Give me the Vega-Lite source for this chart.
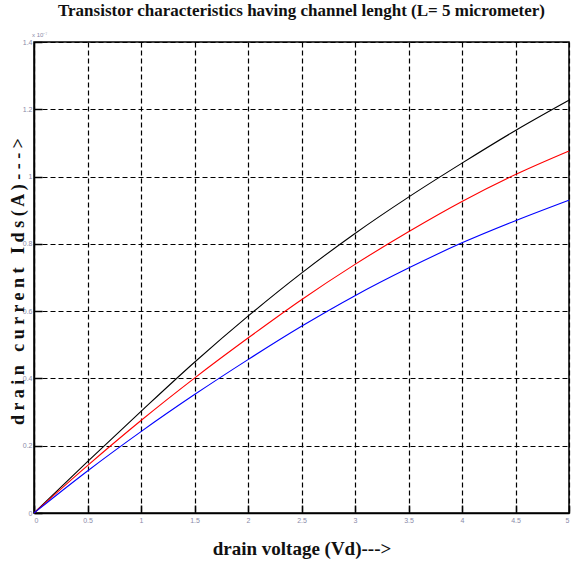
{
  "$schema": "https://vega.github.io/schema/vega-lite/v6.json",
  "autosize": "none",
  "width": 535,
  "height": 471,
  "padding": {"left": 34, "top": 42, "right": 4, "bottom": 49},
  "background": "white",
  "title": {
    "text": "Transistor characteristics having channel lenght (L= 5 micrometer)",
    "font": "Liberation Serif",
    "fontSize": 17,
    "fontWeight": "bold",
    "color": "#111111",
    "offset": 12,
    "anchor": "middle"
  },
  "config": {
    "view": {"stroke": "#000000", "strokeWidth": 1.5},
    "axis": {
      "grid": true,
      "gridColor": "#000000",
      "gridDash": [5, 3],
      "gridWidth": 1.2,
      "gridOpacity": 1,
      "domainColor": "#000000",
      "domainWidth": 1.5,
      "tickColor": "#000000",
      "tickSize": -8,
      "tickWidth": 1.5,
      "labelFont": "Liberation Sans",
      "labelFontSize": 7,
      "labelColor": "#8a8aa8",
      "format": "~g",
      "titleFont": "Liberation Serif",
      "titleFontWeight": "bold",
      "titleFontSize": 18,
      "titleColor": "#111111"
    }
  },
  "data": {
    "values": [
      {"series": "s1", "vd": 0, "ids": 0},
      {"series": "s1", "vd": 0.5, "ids": 0.153},
      {"series": "s1", "vd": 1, "ids": 0.302},
      {"series": "s1", "vd": 1.5, "ids": 0.448},
      {"series": "s1", "vd": 2, "ids": 0.585},
      {"series": "s1", "vd": 2.5, "ids": 0.713},
      {"series": "s1", "vd": 3, "ids": 0.831},
      {"series": "s1", "vd": 3.5, "ids": 0.939},
      {"series": "s1", "vd": 4, "ids": 1.04},
      {"series": "s1", "vd": 4.5, "ids": 1.137},
      {"series": "s1", "vd": 5, "ids": 1.227},
      {"series": "s2", "vd": 0, "ids": 0},
      {"series": "s2", "vd": 0.5, "ids": 0.141},
      {"series": "s2", "vd": 1, "ids": 0.275},
      {"series": "s2", "vd": 1.5, "ids": 0.401},
      {"series": "s2", "vd": 2, "ids": 0.52},
      {"series": "s2", "vd": 2.5, "ids": 0.634},
      {"series": "s2", "vd": 3, "ids": 0.739},
      {"series": "s2", "vd": 3.5, "ids": 0.836},
      {"series": "s2", "vd": 4, "ids": 0.926},
      {"series": "s2", "vd": 4.5, "ids": 1.006},
      {"series": "s2", "vd": 5, "ids": 1.076},
      {"series": "s3", "vd": 0, "ids": 0},
      {"series": "s3", "vd": 0.5, "ids": 0.125},
      {"series": "s3", "vd": 1, "ids": 0.242},
      {"series": "s3", "vd": 1.5, "ids": 0.352},
      {"series": "s3", "vd": 2, "ids": 0.456},
      {"series": "s3", "vd": 2.5, "ids": 0.555},
      {"series": "s3", "vd": 3, "ids": 0.646},
      {"series": "s3", "vd": 3.5, "ids": 0.728},
      {"series": "s3", "vd": 4, "ids": 0.803},
      {"series": "s3", "vd": 4.5, "ids": 0.869},
      {"series": "s3", "vd": 5, "ids": 0.93}
    ]
  },
  "layer": [
    {
      "mark": {"type": "line", "strokeWidth": 1.1, "interpolate": "monotone"},
      "encoding": {
        "x": {
          "field": "vd",
          "type": "quantitative",
          "scale": {"domain": [0, 5], "nice": false, "zero": false},
          "axis": {
            "values": [0, 0.5, 1, 1.5, 2, 2.5, 3, 3.5, 4, 4.5, 5],
            "title": "drain voltage (Vd)--->",
            "titleFontSize": 19,
            "labelPadding": 11,
            "titlePadding": 16
          }
        },
        "y": {
          "field": "ids",
          "type": "quantitative",
          "scale": {"domain": [0, 1.4], "nice": false},
          "axis": {
            "values": [0, 0.2, 0.4, 0.6, 0.8, 1, 1.2, 1.4],
            "title": "d r a i n\u00a0\u00a0\u00a0c u r r e n t\u00a0\u00a0\u00a0I d s ( A ) - - - >",
            "titleAngle": -90,
            "titleX": -16,
            "titleY": 239,
            "titleAlign": "center",
            "titleBaseline": "middle",
            "labelPadding": 10
          }
        },
        "color": {
          "field": "series",
          "type": "nominal",
          "scale": {"domain": ["s1", "s2", "s3"], "range": ["#000000", "#ff0000", "#0000ff"]},
          "legend": null
        }
      }
    },
    {
      "data": {"values": [{"vd": 0, "ids": 1.4, "label": "x 10⁻⁷"}]},
      "mark": {"type": "text", "fontSize": 6, "color": "#8a8aa8", "align": "left", "baseline": "bottom", "dx": -2, "dy": -4, "font": "Liberation Sans"},
      "encoding": {
        "x": {"field": "vd", "type": "quantitative"},
        "y": {"field": "ids", "type": "quantitative"},
        "text": {"field": "label"}
      }
    }
  ]
}
